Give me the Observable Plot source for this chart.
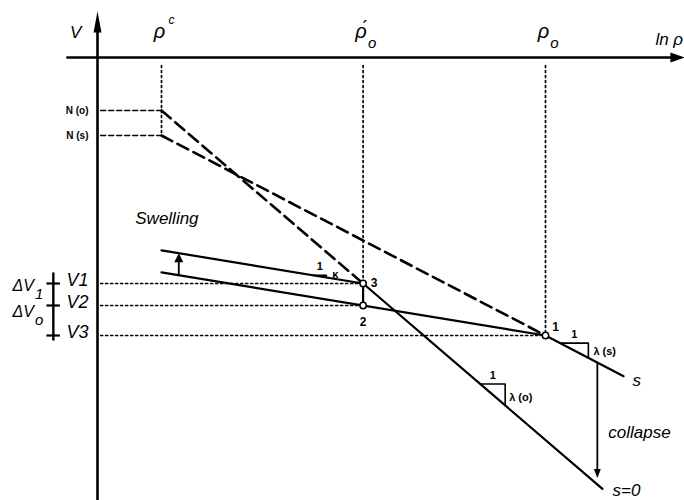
<!DOCTYPE html>
<html><head><meta charset="utf-8">
<script src="https://cdn.jsdelivr.net/npm/d3@7"></script>
<script src="https://cdn.jsdelivr.net/npm/@observablehq/plot@0.6"></script>
<style>html,body{margin:0;padding:0;background:#fff}#chart svg{display:block}</style>
</head><body><div id="chart"></div>
<script>
// ---- data (schematic units: x = ln p, y = specific volume v) ----
const lnpNames = ["ρ", "ρ\u0301", "ρ"];     // ρ^c, ρ'_o, ρ_o
const lnpSub = ["c", "o", "o"];
const lnpValues = [1.0, 4.15, 7.0];
const nclNames = ["N (o)", "N (s)"];       // intercepts at ρ^c
const nclV = [7.8, 7.3];
const pointNames = ["3", "2", "1"];
const pointLnp = [4.15, 4.15, 7.0];
const pointV = [4.34, 3.90, 3.30];
const vNames = ["V1", "V2", "V3"];
const vValues = [4.34, 3.90, 3.30];
const lineNames = ["s", "s=0"];
const lineEndLnp = [8.22, 7.89];
const swellStartLnp = 1.0;
const axisV = 8.86;       // v level of ln p axis
const axisTopV = 9.78;
const axisLeftLnp = -0.47;
const axisRightLnp = 9.17;

// ---- derived slopes ----
const lambdaO = (nclV[0] - pointV[0]) / (pointLnp[0] - lnpValues[0]);
const lambdaS = (nclV[1] - pointV[2]) / (pointLnp[2] - lnpValues[0]);
const kappa = (pointV[1] - pointV[2]) / (pointLnp[2] - pointLnp[1]);
const vS0 = x => pointV[0] - lambdaO * (x - pointLnp[0]);
const vS = x => pointV[2] - lambdaS * (x - pointLnp[2]);
const vUp = x => pointV[0] + kappa * (pointLnp[0] - x);
const vLow = x => pointV[2] + kappa * (pointLnp[2] - x);

const head = (len, hw) => ({draw(ctx) {ctx.moveTo(0, 0); ctx.lineTo(-hw, len); ctx.lineTo(hw, len); ctx.closePath();}});

const font = "Liberation Sans, Arial, sans-serif";
const seg = (a, b) => [a, b];
const solid = {stroke: "black", strokeWidth: 2.2};
const dashed = {stroke: "black", strokeWidth: 2.6, strokeDasharray: "12,6"};
const dotted = {stroke: "black", strokeWidth: 1.7, strokeDasharray: "2,3"};
const shortDash = {stroke: "black", strokeWidth: 1.6, strokeDasharray: "5,3"};

// slope triangles
const triK = {x: 3.375, run: 0.2, f: vUp};
const triS = {x: 7.23, run: 0.44, f: vS};
const triO = {x: 5.98, run: 0.39, f: vS0};
const triPath = t => [[t.x, t.f(t.x)], [t.x + t.run, t.f(t.x)], [t.x + t.run, t.f(t.x + t.run)]];

const swellX = 1.27;
const collapseX = 7.81;
const dvX = -1.16;
const dvY = [(vValues[0] + vValues[1]) / 2, (vValues[1] + vValues[2]) / 2];

const bold11 = {fontSize: 11, fontWeight: "bold", fontFamily: font};
const it17 = {fontSize: 17, fontStyle: "italic", fontFamily: font};

const marks = [
  // axes
  Plot.line([[0, 0], [0, axisTopV - 0.3]], {stroke: "black", strokeWidth: 2.6}),
  Plot.line([[axisLeftLnp, axisV], [axisRightLnp - 0.15, axisV]], {stroke: "black", strokeWidth: 2.6}),
  Plot.dot([[0, axisTopV]], {symbol: head(21, 4), fill: "black", stroke: "none"}),
  Plot.dot([[axisRightLnp, axisV]], {symbol: head(14, 5), rotate: 90, fill: "black", stroke: "none"}),
  // dotted verticals
  Plot.line(seg([lnpValues[0], 8.7], [lnpValues[0], nclV[1]]), dotted),
  Plot.line(seg([lnpValues[1], 8.7], [lnpValues[1], pointV[0]]), dotted),
  Plot.line(seg([lnpValues[2], 8.7], [lnpValues[2], pointV[2]]), dotted),
  // horizontal dashed to N
  Plot.line(seg([0.05, nclV[0]], [lnpValues[0], nclV[0]]), shortDash),
  Plot.line(seg([0.05, nclV[1]], [lnpValues[0], nclV[1]]), shortDash),
  // horizontal dotted to v levels
  Plot.line(seg([0.05, vValues[0]], [pointLnp[0], vValues[0]]), dotted),
  Plot.line(seg([0.05, vValues[1]], [pointLnp[1], vValues[1]]), dotted),
  Plot.line(seg([0.05, vValues[2]], [pointLnp[2], vValues[2]]), dotted),
  // NCL dashed
  Plot.line(seg([lnpValues[0], nclV[0]], [pointLnp[0], pointV[0]]), dashed),
  Plot.line(seg([lnpValues[0], nclV[1]], [pointLnp[2], pointV[2]]), dashed),
  // solid NCLs
  Plot.line(seg([pointLnp[0], pointV[0]], [lineEndLnp[1], vS0(lineEndLnp[1])]), solid),
  Plot.line(seg([pointLnp[2], pointV[2]], [lineEndLnp[0], vS(lineEndLnp[0])]), solid),
  // swelling lines
  Plot.line(seg([swellStartLnp, vUp(swellStartLnp)], [pointLnp[0], pointV[0]]), solid),
  Plot.line(seg([swellStartLnp, vLow(swellStartLnp)], [pointLnp[2], pointV[2]]), solid),
  Plot.line(seg([pointLnp[0], pointV[0]], [pointLnp[1], pointV[1]]), solid),
  // swelling arrow
  Plot.line(seg([swellX, vLow(swellX)], [swellX, vUp(swellX) - 0.1]), {stroke: "black", strokeWidth: 1.8}),
  Plot.dot([[swellX, vUp(swellX)]], {symbol: head(9, 4.5), fill: "black", stroke: "none"}),
  // collapse arrow
  Plot.line(seg([collapseX, vS(collapseX)], [collapseX, vS0(collapseX) + 0.2]), {stroke: "black", strokeWidth: 1.8}),
  Plot.dot([[collapseX, vS0(collapseX) + 0.13]], {symbol: head(9, 3.5), rotate: 180, fill: "black", stroke: "none"}),
  // slope triangles
  Plot.line(triPath(triK), {stroke: "black", strokeWidth: 1.6}),
  Plot.line(triPath(triS), {stroke: "black", strokeWidth: 1.6}),
  Plot.line(triPath(triO), {stroke: "black", strokeWidth: 1.6}),
  // left ruler
  Plot.line(seg([-0.69, vValues[0] + 0.2], [-0.69, vValues[2] - 0.08]), {stroke: "black", strokeWidth: 2.4}),
  Plot.ruleY(vValues, {x1: -0.79, x2: -0.58, stroke: "black", strokeWidth: 2.2}),
  // points
  Plot.dot(pointNames.map((n, i) => [pointLnp[i], pointV[i]]), {r: 3.2, fill: "white", stroke: "black", strokeWidth: 1.5}),
  // ---- texts ----
  Plot.text(["V"], {x: -0.34, y: 9.36, ...it17}),
  Plot.text(["ln ρ"], {x: axisRightLnp, y: axisV, dx: -29, dy: -18, textAnchor: "start", ...it17}),
  Plot.text(lnpNames, {x: lnpValues, y: axisV, dx: -2, dy: -26, fontSize: 20, fontStyle: "italic", fontFamily: font}),
  Plot.text([lnpSub[0]], {x: [lnpValues[0]], y: axisV, dx: 10, dy: -37, fontSize: 12, fontStyle: "italic", fontFamily: font}),
  Plot.text(lnpSub.slice(1), {x: lnpValues.slice(1), y: axisV, dx: 9, dy: -14, fontSize: 15, fontStyle: "italic", fontFamily: font}),
  Plot.text(nclNames, {x: 0, y: nclV, dx: -9, textAnchor: "end", fontSize: 10, fontWeight: "bold", fontFamily: font}),
  Plot.text(vNames, {x: 0, y: vValues, dx: -31, dy: -3, textAnchor: "start", fontSize: 18, fontStyle: "italic", fontFamily: font}),
  Plot.text(["ΔV", "ΔV"], {x: dvX, y: dvY, dy: -9, fontSize: 16, fontStyle: "italic", fontFamily: font}),
  Plot.text(["1", "o"], {x: dvX, y: dvY, dx: 16, dy: 0, fontSize: 15, fontStyle: "italic", fontFamily: font}),
  // point labels
  Plot.text([pointNames[0]], {x: [pointLnp[0]], y: [pointV[0]], dx: 11, dy: 0, fontSize: 12, fontWeight: "bold", fontFamily: font}),
  Plot.text([pointNames[1]], {x: [pointLnp[1]], y: [pointV[1]], dx: 0, dy: 17, fontSize: 12, fontWeight: "bold", fontFamily: font}),
  Plot.text([pointNames[2]], {x: [pointLnp[2]], y: [pointV[2]], dx: 10, dy: -8, fontSize: 12, fontWeight: "bold", fontFamily: font}),
  // slope labels
  Plot.text(["1", "1", "1"], {x: [triK.x + triK.run / 2, triS.x + triS.run / 2, triO.x + triO.run / 2], y: [triK.f(triK.x), triS.f(triS.x), triO.f(triO.x)], dy: -9, ...bold11}),
  Plot.text(["κ"], {x: [triK.x + triK.run], y: [triK.f(triK.x)], dx: 6, dy: -1, textAnchor: "start", ...bold11}),
  Plot.text(["λ (s)"], {x: [triS.x + triS.run], y: [triS.f(triS.x + triS.run / 2)], dx: 5, dy: 1, textAnchor: "start", ...bold11}),
  Plot.text(["λ (o)"], {x: [triO.x + triO.run], y: [triO.f(triO.x + triO.run / 2)], dx: 4, dy: 3, textAnchor: "start", ...bold11}),
  Plot.text(["Swelling"], {x: 0.59, y: 5.64, textAnchor: "start", ...it17}),
  Plot.text(["collapse"], {x: collapseX, y: 1.36, dx: 11, textAnchor: "start", ...it17}),
  Plot.text([lineNames[0]], {x: [lineEndLnp[0]], y: [vS(lineEndLnp[0])], dx: 9, dy: 4, textAnchor: "start", ...it17}),
  Plot.text([lineNames[1]], {x: [lineEndLnp[1]], y: [vS0(lineEndLnp[1])], dx: 10, dy: 2, textAnchor: "start", ...it17})
];

const chart = Plot.plot({
  width: 684, height: 500, margin: 0,
  x: {domain: [-97 / 64, 587 / 64], axis: null},
  y: {domain: [0, 10], axis: null},
  style: {fontFamily: font, background: "white", overflow: "visible"},
  marks
});
document.getElementById("chart").appendChild(chart);
</script>
</body></html>
